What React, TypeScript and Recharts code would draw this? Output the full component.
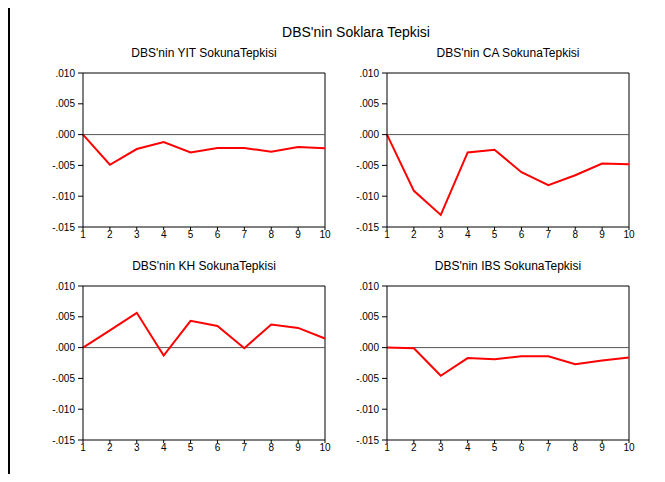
import React from "react"
import { LineChart, Line, XAxis, YAxis, ReferenceLine } from "recharts"

const periods = [1, 2, 3, 4, 5, 6, 7, 8, 9, 10]

// DBS'nin şoklara tepkileri
const yitValues = [0, -0.0049, -0.00234, -0.0012, -0.0029, -0.00217, -0.00217, -0.0028, -0.002, -0.0022]
const caValues = [0, -0.00913, -0.01304, -0.0029, -0.00245, -0.0061, -0.0082, -0.0066, -0.0047, -0.0048]
const khValues = [0, 0.0028, 0.00565, -0.0013, 0.00435, 0.0035, -0.0001, 0.00375, 0.0032, 0.00147]
const ibsValues = [0, -0.0001, -0.00457, -0.0017, -0.0019, -0.0014, -0.0014, -0.0027, -0.0021, -0.0016]

const yTicks = [-0.015, -0.01, -0.005, 0, 0.005, 0.01]

const FONT = "'Liberation Sans', Arial, sans-serif"

const fmt = (v: number) => {
  const s = Math.abs(v).toFixed(3).replace(/^0/, "")
  return v < -1e-9 ? "-" + s : s
}

interface PanelProps {
  title: string
  values: number[]
  left: number
  top: number
}

function Panel({ title, values, left, top }: PanelProps) {
  const data = periods.map((p, i) => ({ p, v: values[i] }))
  return (
    <>
      <div
        style={{
          position: "absolute",
          left: left + 40 - 60,
          width: 242 + 120,
          top: top - 17,
          textAlign: "center",
          fontSize: 12,
          lineHeight: "14px",
          fontFamily: FONT,
          color: "#000",
        }}
      >
        {title}
      </div>
      <div style={{ position: "absolute", left, top }}>
        <LineChart width={292} height={184} data={data} margin={{ top: 10, right: 10, left: 0, bottom: 0 }}>
          <XAxis
            dataKey="p"
            type="number"
            domain={[1, 10]}
            ticks={periods}
            tickSize={3}
            tickMargin={1}
            height={20}
            stroke="#000"
            tick={{ fill: "#000", fontSize: 10, fontFamily: FONT }}
            interval={0}
          />
          <YAxis
            type="number"
            domain={[-0.015, 0.01]}
            ticks={yTicks}
            tickFormatter={fmt}
            width={40}
            tickSize={5}
            tickMargin={3}
            stroke="#000"
            tick={{ fill: "#000", fontSize: 10, fontFamily: FONT }}
            interval={0}
          />
          <ReferenceLine y={0.01} stroke="#000" strokeWidth={1} />
          <ReferenceLine x={10} stroke="#000" strokeWidth={1} />
          <ReferenceLine y={0} stroke="#555" strokeWidth={1} />
          <Line
            type="linear"
            dataKey="v"
            stroke="#ff0000"
            strokeWidth={2}
            dot={false}
            isAnimationActive={false}
          />
        </LineChart>
      </div>
    </>
  )
}

export default function App() {
  return (
    <div
      style={{
        position: "relative",
        width: 665,
        height: 482,
        margin: -8,
        overflow: "hidden",
        background: "#fff",
        fontFamily: FONT,
      }}
    >
      <div
        style={{
          position: "absolute",
          left: 8,
          top: 0,
          width: 720,
          height: 475,
          borderLeft: "2px solid #000",
          borderBottom: "2px solid #000",
          borderTop: "1px solid #888",
        }}
      />
      <div
        style={{
          position: "absolute",
          left: 0,
          width: 712,
          top: 24,
          textAlign: "center",
          fontSize: 14,
          lineHeight: "16px",
          fontFamily: FONT,
        }}
      >
        DBS'nin Soklara Tepkisi
      </div>
      <Panel title="DBS'nin YIT SokunaTepkisi" values={yitValues} left={43} top={63} />
      <Panel title="DBS'nin CA SokunaTepkisi" values={caValues} left={347} top={63} />
      <Panel title="DBS'nin KH SokunaTepkisi" values={khValues} left={43} top={276} />
      <Panel title="DBS'nin IBS SokunaTepkisi" values={ibsValues} left={347} top={276} />
    </div>
  )
}
